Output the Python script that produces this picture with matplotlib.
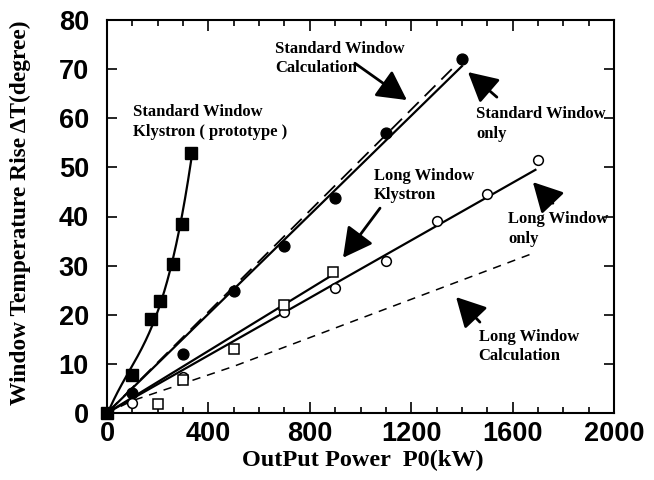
import numpy as np
import matplotlib
matplotlib.use("Agg")
import matplotlib.pyplot as plt

plt.rcParams['lines.scale_dashes'] = False

# ---- data ----
proto_x = [0, 100, 172, 209, 259, 296, 333]
proto_y = [0, 7.8, 19.1, 22.8, 30.3, 38.5, 53.0]

std_only_x = [100, 300, 500, 700, 900, 1100, 1400]
std_only_y = [4.0, 12.0, 24.8, 34.0, 43.7, 57.0, 72.0]
std_fit_x = [0, 1400]
std_fit_y = [0, 70.6]

std_calc_x = [0, 1360]
std_calc_y = [0, 70.0]

long_only_x = [100, 300, 700, 900, 1100, 1300, 1500, 1700]
long_only_y = [2.1, 7.4, 20.6, 25.5, 31.0, 39.0, 44.6, 51.4]
long_only_fit_x = [0, 1690]
long_only_fit_y = [0, 49.5]

long_kly_x = [200, 300, 500, 700, 893]
long_kly_y = [1.9, 6.8, 13.1, 21.9, 28.8]
long_kly_fit_x = [0, 880]
long_kly_fit_y = [0, 27.8]

long_calc_x = [0, 100, 500, 1680]
long_calc_y = [0, 2.5, 9.5, 32.5]

xticks = [0, 400, 800, 1200, 1600, 2000]
yticks = [0, 10, 20, 30, 40, 50, 60, 70, 80]

serif = 'Liberation Serif'
sans = 'Liberation Sans'

fig = plt.figure(figsize=(6.54, 4.8), dpi=100)
ax = fig.add_axes([107/654, 67/480, 507/654, 393/480])

# prototype curve: cubic least-squares fit of the measured points
coef = np.polyfit(proto_x, proto_y, 3)
xc = np.linspace(0, max(proto_x), 200)
ax.plot(xc, np.polyval(coef, xc), color='black', lw=1.6)
ax.plot(proto_x, proto_y, 's', color='black', ms=8, clip_on=False, zorder=5)

# standard window
ax.plot(std_calc_x, std_calc_y, color='black', lw=1.3, linestyle=(0, (11, 6)))
ax.plot(std_fit_x, std_fit_y, color='black', lw=1.6)
ax.plot(std_only_x, std_only_y, 'o', color='black', ms=7.8, zorder=5)

# long window
ax.plot(long_calc_x, long_calc_y, color='black', lw=1.1, linestyle=(0, (6, 5)))
ax.plot(long_only_fit_x, long_only_fit_y, color='black', lw=1.6)
ax.plot(long_kly_fit_x, long_kly_fit_y, color='black', lw=1.6)
ax.plot(long_only_x, long_only_y, 'o', mfc='white', mec='black', mew=1.1, ms=7, zorder=5)
ax.plot(long_kly_x, long_kly_y, 's', mfc='white', mec='black', mew=1.1, ms=7, zorder=5)

ax.set_xlim(0, 2000)
ax.set_ylim(0, 80)
ax.set_xticks(xticks)
ax.set_xticks(np.arange(0, 2001, 100), minor=True)
ax.set_yticks(yticks)
ax.tick_params(axis='both', which='both', direction='in', top=True, right=True, width=1.2)
ax.tick_params(axis='x', which='major', length=8, pad=6)
ax.tick_params(axis='x', which='minor', length=4)
ax.tick_params(axis='y', which='major', length=7, pad=13)
for lab in ax.get_xticklabels() + ax.get_yticklabels():
    lab.set_fontfamily(sans)
    lab.set_fontweight('bold')
    lab.set_fontsize(19.5)
for s in ax.spines.values():
    s.set_linewidth(1.5)

ax.set_xlabel('OutPut Power  P0(kW)', fontfamily=serif, fontweight='bold', fontsize=17.5)
ax.xaxis.label.set_va('center')
ax.xaxis.set_label_coords((363-107)/507, (413-460)/393)
ax.set_ylabel('Window Temperature Rise \u0394T(degree)', fontfamily=serif, fontweight='bold', fontsize=16.8)
ax.yaxis.label.set_va('center')
ax.yaxis.set_label_coords((20-107)/507, (413-213)/393)

tkw = dict(fontfamily=serif, fontweight='bold', fontsize=12, ha='left', va='center', linespacing=1.3)
ax.text(663, 72.2, 'Standard Window\nCalculation', **tkw)
ax.text(103, 59.2, 'Standard Window\nKlystron ( prototype )', **tkw)
ax.text(1456, 58.8, 'Standard Window\nonly', **tkw)
ax.text(1053, 46.3, 'Long Window\nKlystron', **tkw)
ax.text(1582, 37.5, 'Long Window\nonly', **tkw)
ax.text(1466, 13.5, 'Long Window\nCalculation', **tkw)

aprops = dict(arrowstyle='-|>,head_length=0.75,head_width=0.4', mutation_scale=24,
              lw=2.0, color='black', shrinkA=0, shrinkB=0)
arrows = [((978, 71.2), (1183, 63.7)),
          ((1538, 64.3), (1424, 69.4)),
          ((1077, 41.7), (931, 31.6)),
          ((1759, 42.7), (1680, 47.0)),
          ((1471, 18.5), (1377, 23.6))]
for tail, tip in arrows:
    ax.annotate('', xy=tip, xytext=tail, arrowprops=aprops)

fig.savefig('out.png', dpi=100)
